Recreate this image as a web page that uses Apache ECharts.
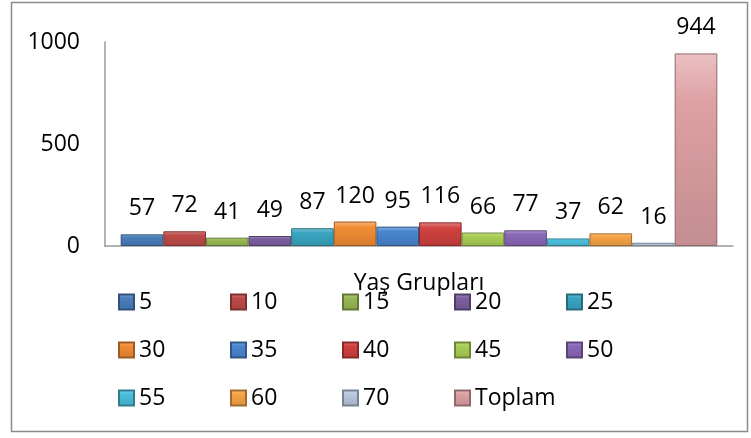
<!DOCTYPE html>
<html>
<head>
<meta charset="utf-8">
<script src="https://cdn.jsdelivr.net/npm/echarts@6/dist/echarts.min.js"></script>
<style>
html,body{margin:0;padding:0;background:#fff;}
#c{width:751px;height:438px;}
</style>
</head>
<body>
<div id="c"></div>
<script>
// ---- data ----
const categories = ['Yaş Grupları'];
const seriesNames = ['5','10','15','20','25','30','35','40','45','50','55','60','70','Toplam'];
const seriesValues = [57,72,41,49,87,120,95,116,66,77,37,62,16,944];
const yTicks = [0, 500, 1000];

// ---- style ----
const palette = ['#4a7ebb','#be4b48','#98b954','#7d60a0','#3aa6c2','#f28c35',
                 '#4a86d0','#d0413f','#a9cf55','#8b68b8','#4bc0de','#f7a545','#b9c9e0','#dea0a3'];
const FONT = 'Open Sans';
const FS = 23;

function shade(hex, f){
  const n = parseInt(hex.slice(1),16);
  let r=(n>>16)&255,g=(n>>8)&255,b=n&255;
  if(f>=0){r+= (255-r)*f; g+=(255-g)*f; b+=(255-b)*f;}
  else {r*=1+f; g*=1+f; b*=1+f;}
  return 'rgb('+Math.round(r)+','+Math.round(g)+','+Math.round(b)+')';
}
function grad(c){
  return new echarts.graphic.LinearGradient(0,0,0,1,[
    {offset:0,color:shade(c,0.35)},
    {offset:0.25,color:c},
    {offset:1,color:shade(c,-0.12)}
  ]);
}

const series = seriesNames.map((name,i)=>({
  name: name,
  type: 'bar',
  data: [seriesValues[i]],
  barGap: '0%',
  barCategoryGap: '5%',
  itemStyle: {color: grad(palette[i]), borderColor: shade(palette[i],-0.35), borderWidth: 1},
  label: {show:true, position:'top', distance:14, color:'#000',
          fontFamily:FONT, fontSize:FS},
  emphasis: {disabled:true}
}));

const legendRows = [seriesNames.slice(0,5), seriesNames.slice(5,10), seriesNames.slice(10)];
const legendTops = [290, 338, 386];
const legends = legendRows.map((row,k)=>({
  data: row,
  left: 118,
  top: legendTops[k],
  padding: 0,
  orient: 'horizontal',
  itemWidth: 15,
  itemHeight: 15,
  itemGap: 10,
  icon: 'rect',
  selectedMode: false,
  textStyle: {fontFamily:FONT, fontSize:FS, color:'#000', width:81, lineHeight:24}
}));

const chart = echarts.init(document.getElementById('c'), null, {renderer:'canvas'});
chart.setOption({
  animation: false,
  backgroundColor: '#fff',
  color: palette,
  graphic: [{
    type:'rect', shape:{x:11.5,y:2.5,width:736,height:429},
    style:{fill:'none', stroke:'#8c8c8c', lineWidth:1.5}, silent:true
  }],
  grid: {left:105, right:18, top:42, bottom:192, containLabel:false},
  legend: legends,
  xAxis: {
    type:'category', data: categories,
    axisLine:{show:true, lineStyle:{color:'#9a9a9a', width:1.5}},
    axisTick:{show:false},
    axisLabel:{fontFamily:FONT, fontSize:FS, color:'#000', margin:26}
  },
  yAxis: {
    type:'value', min: yTicks[0], max: yTicks[yTicks.length-1], interval: yTicks[1]-yTicks[0],
    axisLine:{show:true, lineStyle:{color:'#9a9a9a', width:1.5}},
    axisTick:{show:false},
    splitLine:{show:false},
    axisLabel:{fontFamily:FONT, fontSize:FS, color:'#000', margin:25,
               formatter: v => String(v)}
  },
  series: series
});
</script>
</body>
</html>
